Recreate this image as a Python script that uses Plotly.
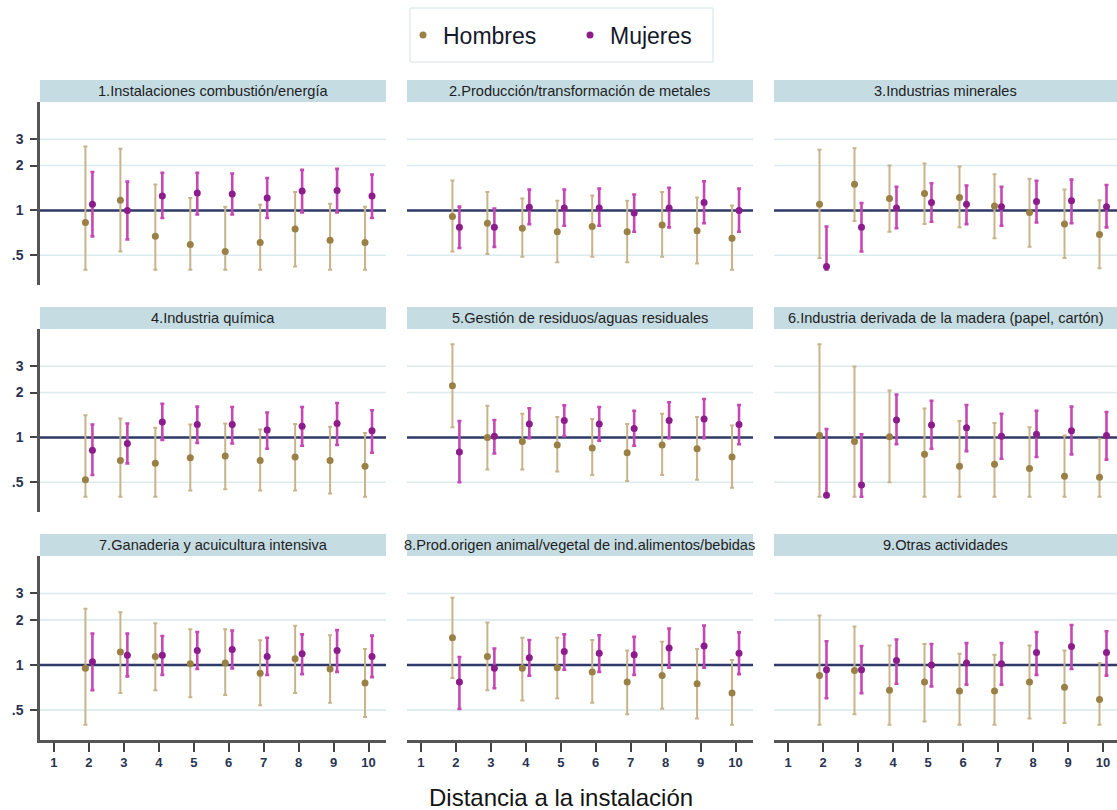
import plotly.graph_objects as go

# ---------------- data ----------------
titles = [
    "1.Instalaciones combustión/energía",
    "2.Producción/transformación de metales",
    "3.Industrias minerales",
    "4.Industria química",
    "5.Gestión de residuos/aguas residuales",
    "6.Industria derivada de la madera (papel, cartón)",
    "7.Ganaderia y acuicultura intensiva",
    "8.Prod.origen animal/vegetal de ind.alimentos/bebidas",
    "9.Otras actividades",
]
distancias = [2, 3, 4, 5, 6, 7, 8, 9, 10]
x_ticks = [1, 2, 3, 4, 5, 6, 7, 8, 9, 10]
y_tickvals = [0.5, 1, 2, 3]
y_ticktext = [".5", "1", "2", "3"]
ref_value = 1

hombres_or = [
    [0.83, 1.17, 0.67, 0.59, 0.53, 0.61, 0.75, 0.63, 0.61],
    [0.91, 0.82, 0.76, 0.72, 0.78, 0.72, 0.80, 0.73, 0.65],
    [1.10, 1.50, 1.20, 1.30, 1.22, 1.07, 0.97, 0.81, 0.69],
    [0.52, 0.70, 0.67, 0.73, 0.75, 0.70, 0.74, 0.70, 0.64],
    [2.22, 1.00, 0.94, 0.89, 0.85, 0.79, 0.89, 0.84, 0.74],
    [1.03, 0.94, 1.01, 0.77, 0.64, 0.66, 0.62, 0.55, 0.54],
    [0.95, 1.22, 1.14, 1.02, 1.03, 0.88, 1.10, 0.94, 0.76],
    [1.52, 1.14, 0.95, 0.96, 0.90, 0.77, 0.85, 0.75, 0.65],
    [0.85, 0.92, 0.68, 0.77, 0.67, 0.67, 0.77, 0.71, 0.59],
]
hombres_lo = [
    [0.40, 0.53, 0.40, 0.40, 0.40, 0.40, 0.42, 0.40, 0.40],
    [0.53, 0.51, 0.49, 0.45, 0.49, 0.45, 0.49, 0.44, 0.40],
    [0.48, 0.85, 0.72, 0.81, 0.77, 0.65, 0.57, 0.48, 0.41],
    [0.40, 0.40, 0.40, 0.44, 0.45, 0.44, 0.44, 0.42, 0.40],
    [1.17, 0.61, 0.61, 0.59, 0.56, 0.51, 0.56, 0.52, 0.46],
    [0.40, 0.40, 0.50, 0.40, 0.40, 0.40, 0.40, 0.40, 0.40],
    [0.40, 0.65, 0.68, 0.61, 0.63, 0.54, 0.65, 0.56, 0.45],
    [0.82, 0.68, 0.58, 0.60, 0.56, 0.47, 0.51, 0.44, 0.40],
    [0.40, 0.47, 0.40, 0.42, 0.40, 0.40, 0.44, 0.41, 0.40],
]
hombres_hi = [
    [2.68, 2.59, 1.49, 1.21, 1.06, 1.09, 1.33, 1.11, 1.06],
    [1.59, 1.33, 1.20, 1.16, 1.26, 1.16, 1.33, 1.22, 1.08],
    [2.55, 2.61, 2.00, 2.06, 1.97, 1.75, 1.63, 1.38, 1.17],
    [1.41, 1.34, 1.16, 1.22, 1.24, 1.13, 1.23, 1.18, 1.07],
    [4.21, 1.63, 1.44, 1.37, 1.33, 1.23, 1.44, 1.37, 1.20],
    [4.21, 2.99, 2.06, 1.56, 1.29, 1.25, 1.17, 1.03, 0.98],
    [2.37, 2.25, 1.90, 1.73, 1.73, 1.46, 1.83, 1.58, 1.28],
    [2.81, 1.92, 1.52, 1.52, 1.47, 1.25, 1.43, 1.28, 1.08],
    [2.14, 1.81, 1.35, 1.38, 1.19, 1.17, 1.35, 1.25, 1.03],
]
mujeres_or = [
    [1.10, 1.00, 1.25, 1.31, 1.29, 1.21, 1.35, 1.36, 1.25],
    [0.77, 0.77, 1.05, 1.04, 1.04, 0.96, 1.04, 1.13, 1.00],
    [0.42, 0.77, 1.04, 1.13, 1.10, 1.06, 1.15, 1.16, 1.06],
    [0.82, 0.91, 1.27, 1.22, 1.22, 1.12, 1.19, 1.24, 1.11],
    [0.80, 1.02, 1.23, 1.30, 1.23, 1.15, 1.30, 1.33, 1.22],
    [0.41, 0.48, 1.31, 1.21, 1.16, 1.02, 1.05, 1.11, 1.03],
    [1.05, 1.16, 1.16, 1.25, 1.27, 1.14, 1.19, 1.25, 1.14],
    [0.77, 0.95, 1.12, 1.23, 1.20, 1.17, 1.30, 1.34, 1.20],
    [0.93, 0.93, 1.07, 1.00, 1.03, 1.02, 1.21, 1.33, 1.21],
]
mujeres_lo = [
    [0.67, 0.64, 0.89, 0.94, 0.94, 0.89, 0.97, 0.97, 0.89],
    [0.56, 0.57, 0.81, 0.79, 0.79, 0.72, 0.77, 0.82, 0.72],
    [0.40, 0.53, 0.76, 0.84, 0.81, 0.79, 0.83, 0.82, 0.77],
    [0.56, 0.67, 0.96, 0.92, 0.91, 0.84, 0.88, 0.89, 0.79],
    [0.50, 0.78, 0.99, 1.02, 0.95, 0.88, 0.99, 0.99, 0.90],
    [0.40, 0.40, 0.90, 0.84, 0.81, 0.72, 0.74, 0.77, 0.71],
    [0.68, 0.84, 0.86, 0.94, 0.95, 0.86, 0.87, 0.90, 0.83],
    [0.51, 0.70, 0.85, 0.93, 0.90, 0.86, 0.96, 0.96, 0.87],
    [0.60, 0.65, 0.75, 0.72, 0.74, 0.74, 0.86, 0.94, 0.85],
]
mujeres_hi = [
    [1.81, 1.56, 1.79, 1.79, 1.77, 1.65, 1.87, 1.90, 1.74],
    [1.06, 1.03, 1.38, 1.38, 1.40, 1.28, 1.42, 1.57, 1.40],
    [0.78, 1.12, 1.44, 1.52, 1.47, 1.44, 1.58, 1.61, 1.48],
    [1.22, 1.24, 1.68, 1.61, 1.60, 1.47, 1.60, 1.70, 1.52],
    [1.29, 1.31, 1.57, 1.64, 1.60, 1.51, 1.72, 1.81, 1.65],
    [1.14, 1.05, 1.94, 1.76, 1.65, 1.44, 1.51, 1.61, 1.48],
    [1.62, 1.62, 1.56, 1.66, 1.70, 1.52, 1.60, 1.71, 1.57],
    [1.13, 1.29, 1.47, 1.60, 1.58, 1.54, 1.75, 1.83, 1.65],
    [1.44, 1.34, 1.48, 1.38, 1.40, 1.40, 1.66, 1.85, 1.68],
]

# ---------------- style / layout ----------------
W, H = 1117, 810
col_px = [(40, 386), (407, 753), (774, 1117)]
row_px = [(102, 285), (329, 512), (556, 740)]   # plot area (top, bottom)
head_h = 22
x_ranges = [[0.6, 10.5], [0.6, 10.5], [0.6, 10.4]]
y_range = [-0.5, 0.727]

H_PT, H_CI = "#9A8045", "#C7B48C"
M_PT, M_CI = "#8C1C8C", "#C548B5"
REF = "#2E3A68"
GRID = "#DCEBEF"
HEAD = "#C5DCE2"
FONT = "Liberation Sans, Arial, sans-serif"
OFF = 0.1

fig = go.Figure()
layout = dict(
    width=W, height=H, margin=dict(l=0, r=0, t=0, b=0),
    paper_bgcolor="white", plot_bgcolor="white",
    font=dict(family=FONT, color="#1a1a2a"),
    showlegend=True,
    legend=dict(orientation="h", x=403 / W, y=1 - 35 / H, xanchor="left", yanchor="middle",
                borderwidth=0, bgcolor="rgba(0,0,0,0)",
                font=dict(size=23, color="#15192b", family=FONT),
                itemsizing="trace", entrywidth=122, entrywidthmode="pixels"),
)
shapes, annotations = [], []

# legend frame
shapes.append(dict(type="rect", xref="paper", yref="paper",
                   x0=410 / W, x1=713 / W, y0=1 - 62 / H, y1=1 - 8 / H,
                   line=dict(color="#D3E2E7", width=1), fillcolor="rgba(0,0,0,0)"))

for i in range(9):
    r, c = divmod(i, 3)
    n = i + 1
    xa = "x" if n == 1 else f"x{n}"
    ya = "y" if n == 1 else f"y{n}"
    x0p, x1p = col_px[c]
    top, bot = row_px[r]
    xd = [x0p / W, x1p / W]
    yd = [1 - bot / H, 1 - top / H]

    layout["xaxis" if n == 1 else f"xaxis{n}"] = dict(
        domain=xd, anchor=ya, range=x_ranges[c], tickvals=x_ticks,
        showgrid=False, zeroline=False,
        showline=(r == 2), linecolor="#555555", linewidth=2.5,
        ticks="outside" if r == 2 else "", ticklen=9, tickwidth=2, tickcolor="#444444",
        showticklabels=(r == 2),
        tickfont=dict(size=13, color="#2a3350", family=FONT, weight="bold"),
        fixedrange=True,
    )
    layout["yaxis" if n == 1 else f"yaxis{n}"] = dict(
        domain=yd, anchor=xa, type="log", range=y_range,
        tickvals=y_tickvals, ticktext=y_ticktext,
        showgrid=False, zeroline=False,
        showline=(c == 0), linecolor="#555555", linewidth=2.5,
        ticks="outside" if c == 0 else "", ticklen=7, tickwidth=2, tickcolor="#444444",
        showticklabels=(c == 0), ticklabelstandoff=4,
        tickfont=dict(size=14, color="#2a3350", family=FONT, weight="bold"),
        fixedrange=True,
    )

    # header band
    shapes.append(dict(type="rect", xref="paper", yref="paper",
                       x0=xd[0], x1=xd[1], y0=1 - top / H, y1=1 - (top - head_h) / H,
                       fillcolor=HEAD, line=dict(width=0), layer="below"))
    annotations.append(dict(text=titles[i], xref="paper", yref="paper",
                            x=(xd[0] + xd[1]) / 2, y=1 - (top - head_h / 2) / H,
                            xanchor="center", yanchor="middle", showarrow=False,
                            font=dict(size=14.6, color="#1e1e24", family=FONT)))
    # gridlines (drawn as shapes so the reference line sits on top of them)
    for tv in y_tickvals:
        if tv == ref_value:
            continue
        shapes.append(dict(type="line", xref=f"{xa} domain", yref=ya, x0=0, x1=1, y0=tv, y1=tv,
                           line=dict(color=GRID, width=1.6), layer="below"))
    # reference line at 1
    shapes.append(dict(type="line", xref=f"{xa} domain", yref=ya, x0=0, x1=1,
                       y0=ref_value, y1=ref_value,
                       line=dict(color=REF, width=2.6), layer="below"))

    hx = [d - OFF for d in distancias]
    mx = [d + OFF for d in distancias]
    fig.add_trace(go.Scatter(
        x=hx, y=hombres_or[i], mode="markers", name="Hombres", legendgroup="h",
        showlegend=(i == 0), xaxis=xa, yaxis=ya, cliponaxis=False,
        marker=dict(color=H_PT, size=7),
        error_y=dict(type="data", symmetric=False,
                     array=[h - o for h, o in zip(hombres_hi[i], hombres_or[i])],
                     arrayminus=[o - l for o, l in zip(hombres_or[i], hombres_lo[i])],
                     color=H_CI, thickness=2, width=2),
    ))
    fig.add_trace(go.Scatter(
        x=mx, y=mujeres_or[i], mode="markers", name="Mujeres", legendgroup="m",
        showlegend=(i == 0), xaxis=xa, yaxis=ya, cliponaxis=False,
        marker=dict(color=M_PT, size=7),
        error_y=dict(type="data", symmetric=False,
                     array=[h - o for h, o in zip(mujeres_hi[i], mujeres_or[i])],
                     arrayminus=[o - l for o, l in zip(mujeres_or[i], mujeres_lo[i])],
                     color=M_CI, thickness=2.6, width=2),
    ))

annotations.append(dict(text="Distancia a la instalación", xref="paper", yref="paper",
                        x=561 / W, y=1 - 797 / H, xanchor="center", yanchor="middle",
                        showarrow=False, font=dict(size=24, color="#141414", family=FONT)))

layout["shapes"] = shapes
layout["annotations"] = annotations
fig.update_layout(**layout)
fig.write_html("out.html")
